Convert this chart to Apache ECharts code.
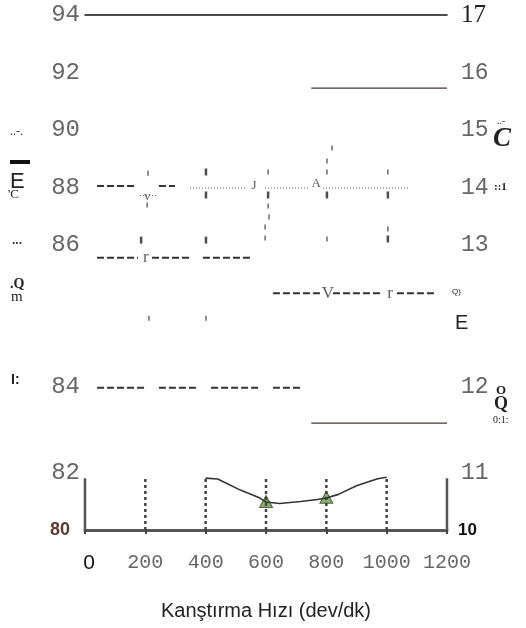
<!DOCTYPE html>
<html>
<head>
<meta charset="utf-8">
<script src="https://cdn.jsdelivr.net/npm/echarts@6/dist/echarts.min.js"></script>
<style>
html, body { margin: 0; padding: 0; background: #fff; }
#main { width: 526px; height: 628px; }
</style>
</head>
<body>
<div id="main"></div>
<script>
// x ekseni (karistirma hizi)
var xTicks = [0, 200, 400, 600, 800, 1000, 1200];

// ust bolum 86-94 / 13-17
var refTopX = [750, 1200];
var refTopY = 91.46;
var row88Dash = [[40, 172], [245, 298]];
var row88DashY = 88.05;
var row88Dot = [[348, 537], [597, 746], [789, 1071]];
var row88DotY = 87.98;
var row88SmallDot = [[182, 239]];
var row88SmallDotY = 87.72;
var row88Glyphs = [['J', 560, 88.05], ['A', 766, 88.12], ['v', 206, 87.68]];
var barMarks = [[401, 88.54], [401, 87.74], [186, 86.17], [401, 86.17], [607, 87.74], [802, 87.74], [1004, 87.74], [1004, 86.21]];
var smallMarks = [[209, 88.50], [206, 87.39], [607, 88.54], [607, 87.36], [610, 86.97], [597, 86.63], [597, 86.24],
                  [819, 89.37], [802, 88.92], [802, 88.54], [802, 86.21], [1004, 88.54], [1004, 86.56]];

// orta bolum 84-86 / 12-13
var row86Dash = [[40, 176], [222, 348], [391, 553]];
var row86Y = 85.82;
var row85Dash = [[623, 789], [822, 988], [1034, 1167]];
var row85Y = 85.32;
var midGlyphs = [['r', 202, 85.82], ['V', 805, 85.32], ['r', 1011, 85.32]];
var midMarks = [[212, 84.97], [401, 84.97]];

// alt orta 82-84 / 11-12
var row84Dash = [[40, 199], [245, 375], [418, 580], [623, 716]];
var row84Y = 83.98;
var refLowX = [750, 1200];
var refLowY = 83.16;

// alt grafik 80-82 / 10-11
var frameTop = 81.82;
var gridX = [200, 400, 600, 800, 1000];
var curveX = [400, 440, 515, 580, 600, 645, 715, 770, 800, 840, 900, 970, 1000];
var curveY = [81.82, 81.79, 81.40, 81.12, 80.98, 80.93, 81.00, 81.07, 81.12, 81.25, 81.55, 81.80, 81.85];
var triX = [600, 800];
var triY = [81.0, 81.15];

var mono = 'Liberation Mono';
var labelGray = '#666';

function segSeries(segs, y, idx, style) {
    var out = [];
    for (var i = 0; i < segs.length; i++) {
        out.push({
            type: 'line', xAxisIndex: idx, yAxisIndex: idx * 2,
            data: [[segs[i][0], y], [segs[i][1], y]],
            symbol: 'none', silent: true, animation: false,
            lineStyle: style
        });
    }
    return out;
}

function glyphSeries(list, idx, size) {
    return {
        type: 'scatter', xAxisIndex: idx, yAxisIndex: idx * 2,
        symbolSize: 1, itemStyle: { color: 'rgba(0,0,0,0)' }, animation: false,
        data: list.map(function (g) { return { name: g[0], value: [g[1], g[2]] }; }),
        label: { show: true, position: 'inside', formatter: '{b}', fontFamily: 'Liberation Serif', fontSize: size, color: '#333' }
    };
}

function markSeries(list, idx, size, color) {
    return {
        type: 'scatter', xAxisIndex: idx, yAxisIndex: idx * 2,
        symbol: 'rect', symbolSize: size, animation: false,
        itemStyle: { color: color }, data: list
    };
}

var grids = [
    { left: 85, right: 79, top: 15, height: 230 },
    { left: 85, right: 79, top: 245, height: 142 },
    { left: 85, right: 79, top: 387, height: 86 },
    { left: 85, right: 79, top: 473, height: 57 }
];

var xAxes = [];
for (var i = 0; i < 4; i++) {
    xAxes.push({
        type: 'value', gridIndex: i, min: 0, max: 1200, interval: 200,
        position: i == 0 ? 'top' : 'bottom',
        axisLine: { show: i == 0 || i == 3, lineStyle: i == 0 ? { color: '#111', width: 1.5 } : { color: '#555', width: 3 } },
        axisTick: { show: i == 3, length: 4, lineStyle: { color: '#444', width: 2 } },
        axisLabel: { show: i == 3 },
        splitLine: { show: false }
    });
}
xAxes[3].axisLabel = {
    show: true, margin: 23, fontFamily: mono, fontSize: 20, color: labelGray,
    formatter: function (v) { return v == 0 ? '{z|0}' : String(v); },
    rich: { z: { fontFamily: 'Liberation Sans', fontSize: 21, color: '#111', padding: [0, 0, 0, 8] } }
};
xAxes[3].name = 'Kanştırma Hızı (dev/dk)';
xAxes[3].nameLocation = 'middle';
xAxes[3].nameGap = 71;
xAxes[3].nameTextStyle = { fontFamily: 'Liberation Sans', fontSize: 20, color: '#222' };

function yPair(idx, lmin, lmax, linterval, rmin, rmax, showL, showR, lRich, rRich) {
    var base = { type: 'value', gridIndex: idx, axisLine: { show: false }, axisTick: { show: false }, splitLine: { show: false } };
    var l = Object.assign({}, base, {
        position: 'left', min: lmin, max: lmax, interval: linterval,
        axisLabel: {
            margin: 5, fontFamily: mono, fontSize: 24, color: labelGray,
            formatter: function (v) { return showL.indexOf(v) < 0 ? '' : (lRich ? '{b|' + v + '}' : String(v)); },
            rich: { b: { fontFamily: 'Liberation Sans', fontWeight: 'bold', fontSize: 18, color: '#5a3b30', padding: [0, 10, 0, 0] } }
        }
    });
    var r = Object.assign({}, base, {
        position: 'right', min: rmin, max: rmax, interval: 1,
        axisLabel: {
            margin: 14, fontFamily: mono, fontSize: 23, color: labelGray,
            formatter: function (v) {
                if (showR.indexOf(v) < 0) return '';
                if (v == 17) return '{s|17}';
                return rRich ? '{b|' + v + '}' : String(v);
            },
            rich: {
                s: { fontFamily: 'Liberation Serif', fontSize: 25, color: '#222' },
                b: { fontFamily: 'Liberation Sans', fontWeight: 'bold', fontSize: 17, color: '#111', padding: [0, 0, 0, -3] }
            }
        }
    });
    return [l, r];
}

var yAxes = [].concat(
    yPair(0, 86, 94, 2, 13, 17, [86, 88, 90, 92, 94], [13, 14, 15, 16, 17], false, false),
    yPair(1, 84, 86, 2, 12, 13, [84], [12], false, false),
    yPair(2, 82, 84, 2, 11, 12, [82], [11], false, false),
    yPair(3, 80, 82, 2, 10, 11, [80], [10], true, true)
);

var dashStyle = { color: '#333', width: 2, type: [7, 3] };
var dotStyle = { color: '#555', width: 1, type: [1, 2] };
var refStyle = { color: '#4a3535', width: 1.2 };

var series = [];
// ust bolum
series.push({ type: 'line', xAxisIndex: 0, yAxisIndex: 0, data: [[refTopX[0], refTopY], [refTopX[1], refTopY]], symbol: 'none', lineStyle: refStyle, animation: false });
series = series.concat(segSeries(row88Dash, row88DashY, 0, dashStyle));
series = series.concat(segSeries(row88Dot, row88DotY, 0, dotStyle));
series = series.concat(segSeries(row88SmallDot, row88SmallDotY, 0, dotStyle));
series.push(glyphSeries(row88Glyphs, 0, 13));
series.push(markSeries(barMarks, 0, [2.5, 7], '#222'));
series.push(markSeries(smallMarks, 0, [1.5, 5], '#444'));
// orta
series = series.concat(segSeries(row86Dash, row86Y, 1, dashStyle));
series = series.concat(segSeries(row85Dash, row85Y, 1, dashStyle));
series.push(glyphSeries(midGlyphs, 1, 17));
series.push(markSeries(midMarks, 1, [1.5, 5], '#444'));
// alt orta
series = series.concat(segSeries(row84Dash, row84Y, 2, dashStyle));
series.push({ type: 'line', xAxisIndex: 2, yAxisIndex: 4, data: [[refLowX[0], refLowY], [refLowX[1], refLowY]], symbol: 'none', lineStyle: refStyle, animation: false });
// alt grafik
for (var k = 0; k < gridX.length; k++) {
    series.push({ type: 'line', xAxisIndex: 3, yAxisIndex: 6, data: [[gridX[k], 80], [gridX[k], frameTop]], symbol: 'none', animation: false,
        lineStyle: { color: '#444', width: 2.5, type: [3, 3] } });
}
series.push({ type: 'line', xAxisIndex: 3, yAxisIndex: 6, data: [[0, 80], [0, frameTop]], symbol: 'none', animation: false, lineStyle: { color: '#555', width: 2.5 } });
series.push({ type: 'line', xAxisIndex: 3, yAxisIndex: 6, data: [[1200, 80], [1200, frameTop]], symbol: 'none', animation: false, lineStyle: { color: '#555', width: 2.5 } });
series.push({
    type: 'line', xAxisIndex: 3, yAxisIndex: 6, symbol: 'none', animation: false,
    data: curveX.map(function (x, i) { return [x, curveY[i]]; }),
    lineStyle: { color: '#333', width: 1.6 }
});
series.push({
    type: 'scatter', xAxisIndex: 3, yAxisIndex: 6, symbol: 'triangle', symbolSize: [13, 12], animation: false,
    data: triX.map(function (x, i) { return [x, triY[i]]; }),
    itemStyle: { color: '#6f9a4a', borderColor: '#2f4a25', borderWidth: 1 }
});

function txt(x, y, s, font, color) {
    return { type: 'text', x: x, y: y, style: { text: s, font: font, fill: color || '#222', verticalAlign: 'middle' } };
}

var myChart = echarts.init(document.getElementById('main'));
myChart.setOption({
    backgroundColor: '#fff',
    animation: false,
    grid: grids,
    xAxis: xAxes,
    yAxis: yAxes,
    series: series,
    graphic: [
        // sol taraftaki bozuk yazilar
        txt(10, 132, '..-.', '12px Liberation Serif', '#333'),
        { type: 'rect', shape: { x: 10, y: 160, width: 20, height: 4 }, style: { fill: '#111' } },
        txt(10, 182, 'E', '22px Liberation Sans'),
        txt(8, 195, "'C", '13px Liberation Serif'),
        txt(12, 241, '...', 'bold 12px Liberation Sans', '#333'),
        txt(10, 284, '.Q', 'bold 14px Liberation Serif'),
        txt(11, 297, 'm', '15px Liberation Serif'),
        txt(11, 380, 'I:', 'bold 14px Liberation Sans'),
        // sag taraf
        txt(497, 121, '..-', '10px Liberation Serif', '#333'),
        txt(493, 139, 'C', 'italic bold 27px Liberation Serif'),
        txt(494, 187, '::1', 'bold 11px Liberation Serif'),
        txt(452, 292, 'Q)', '8px Liberation Sans'),
        txt(455, 323, 'E', '20px Liberation Sans'),
        txt(496, 391, 'O', 'bold 13px Liberation Serif'),
        txt(494, 404, 'Q', 'bold 18px Liberation Serif'),
        txt(493, 420, '0:1:', '10px Liberation Serif')
    ]
});
</script>
</body>
</html>
